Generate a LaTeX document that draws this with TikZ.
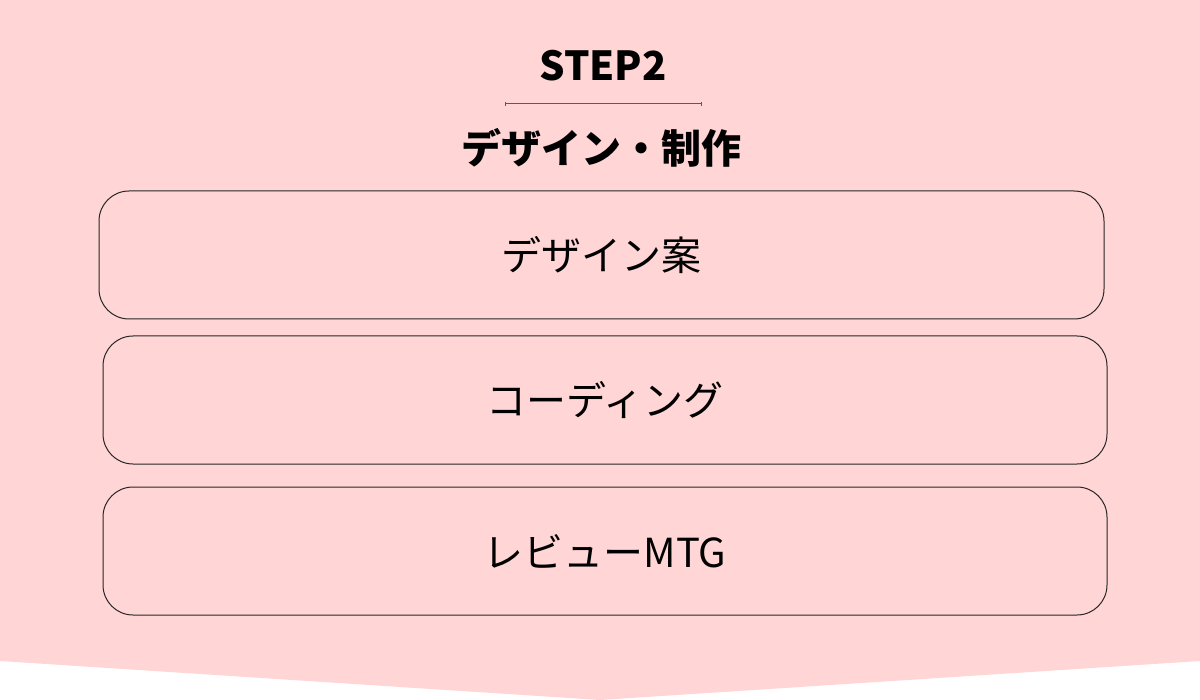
\documentclass[tikz,border=0pt]{standalone}
\usepackage{fontspec}
\usetikzlibrary{arrows.meta}
\setmainfont{Noto Sans CJK JP}
\definecolor{steppink}{HTML}{FFD5D6}
\definecolor{rulegray}{HTML}{5A5A5A}
\tikzset{
  taskbox/.style={draw=black!85, line width=0.5pt, rounded corners=15pt,
    minimum height=64pt, inner sep=0pt, font=\fontsize{20pt}{24pt}\selectfont},
  headtext/.style={font=\fontsize{20pt}{24pt}\selectfont\bfseries, inner sep=0pt}
}
\begin{document}
\begin{tikzpicture}[x=0.5pt,y=-0.5pt]
      \useasboundingbox (0,0) rectangle (1200,700);
      \fill[steppink] (0,0)--(1200,0)--(1200,661)--(600,700)--(0,661)--cycle;
      \node[headtext] (step) at (603,66){STEP2};
      \coordinate (ruleL) at (505,104);
      \coordinate (ruleR) at (702,104);
      \draw[rulegray, line width=0.5pt, {Bar[width=2pt]}-{Bar[width=2pt]}] (ruleL)--(ruleR);
      \node[headtext] (title) at (601,148){デザイン・制作};

      \node[taskbox, minimum width=502.5pt] (design) at (601.5,255){デザイン案};
      \node[taskbox, minimum width=502pt] (coding) at (605,400){コーディング};
      \node[taskbox, minimum width=502pt] (review) at (605,551){レビューMTG};
    \end{tikzpicture}
\end{document}
